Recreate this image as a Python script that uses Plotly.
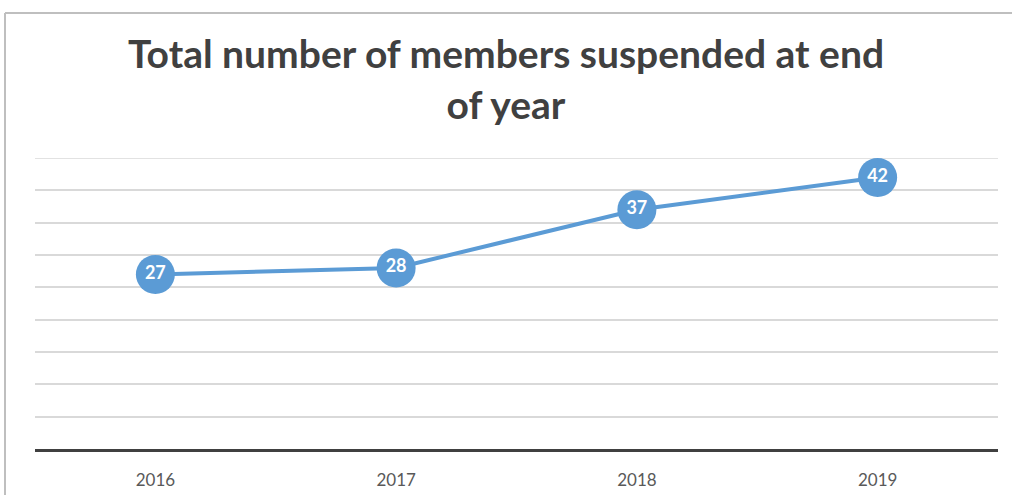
import plotly.graph_objects as go

years = ["2016", "2017", "2018", "2019"]
members = [27, 28, 37, 42]
title_text = "Total number of members suspended at end<br>of year"
y_max = 45

W, H = 1012, 502
L, R, T, B = 35, 14, 158, 47
pw, ph = W - L - R, H - T - B

def px(x):
    return (x - L) / pw

def py(y):
    return (H - B - y) / ph

fig = go.Figure()
fig.add_trace(go.Scatter(
    x=years, y=members, mode="lines+markers+text",
    line=dict(color="#5B9BD5", width=4),
    marker=dict(size=39, color="#5B9BD5", line=dict(width=0)),
    text=[str(v) for v in members], textposition="middle center",
    textfont=dict(family="Lato", size=18, color="white", weight="bold"),
    hoverinfo="skip", cliponaxis=False,
))

fig.update_layout(
    width=W, height=H,
    margin=dict(l=L, r=R, t=T, b=B),
    paper_bgcolor="white", plot_bgcolor="white",
    showlegend=False,
    title=dict(text=title_text, x=0.5, xanchor="center", y=(H - 68) / H, yanchor="middle",
               font=dict(family="Lato", size=39, color="#404040", weight="bold")),
    xaxis=dict(range=[-0.5, 3.5], showgrid=False, zeroline=False,
               showline=True, linecolor="#404040", linewidth=3,
               tickfont=dict(family="Lato", size=17, color="#595959"),
               ticks="", ticklabelstandoff=14),
    yaxis=dict(range=[0, y_max], dtick=5, showticklabels=False, showgrid=True,
               gridcolor="#d9d9d9", gridwidth=1.5, zeroline=False, showline=False),
    shapes=[
        dict(type="line", xref="paper", yref="y", x0=0, x1=1, y0=y_max, y1=y_max,
             line=dict(color="#d9d9d9", width=1.5), layer="below"),
        dict(type="line", xref="paper", yref="paper", x0=px(5), x1=px(5), y0=py(502), y1=py(10),
             line=dict(color="#bfbfbf", width=2)),
        dict(type="line", xref="paper", yref="paper", x0=px(5), x1=px(1012), y0=py(10), y1=py(10),
             line=dict(color="#bfbfbf", width=2)),
    ],
)

fig.write_html("out.html")
